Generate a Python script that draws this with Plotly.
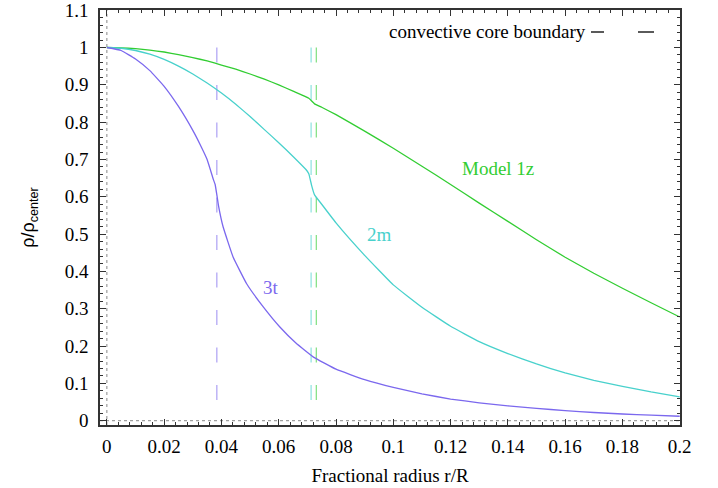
import plotly.graph_objects as go

# ---- data ----
x_1z = [0, 0.005, 0.01, 0.015, 0.02, 0.025, 0.03, 0.035, 0.04, 0.045, 0.05, 0.055, 0.06, 0.065,
        0.0705, 0.0725, 0.075, 0.08, 0.09, 0.1, 0.11, 0.12, 0.13, 0.14, 0.15, 0.16, 0.17, 0.18, 0.19, 0.2]
y_1z = [1.0, 0.999, 0.997, 0.993, 0.988, 0.981, 0.973, 0.964, 0.953, 0.942, 0.929, 0.915, 0.900, 0.883,
        0.864, 0.849, 0.840, 0.820, 0.776, 0.730, 0.682, 0.633, 0.583, 0.534, 0.485, 0.438, 0.395, 0.355, 0.316, 0.278]

x_2m = [0, 0.005, 0.01, 0.015, 0.02, 0.025, 0.03, 0.035, 0.04, 0.045, 0.05, 0.055, 0.06, 0.065,
        0.0695, 0.0705, 0.0715, 0.0725, 0.075, 0.08, 0.09, 0.1, 0.11, 0.12, 0.13, 0.14, 0.15, 0.16, 0.17, 0.18, 0.19, 0.2]
y_2m = [1.0, 0.998, 0.992, 0.982, 0.968, 0.950, 0.929, 0.905, 0.878, 0.848, 0.815, 0.780, 0.745, 0.708,
        0.673, 0.662, 0.630, 0.605, 0.580, 0.530, 0.443, 0.364, 0.304, 0.253, 0.212, 0.180, 0.152, 0.128, 0.108, 0.092, 0.077, 0.064]

x_3t = [0, 0.005, 0.01, 0.015, 0.02, 0.025, 0.03, 0.0325, 0.035, 0.0372, 0.0378, 0.0385, 0.039, 0.0406,
        0.0441, 0.0488, 0.0546, 0.0604, 0.066, 0.072, 0.08, 0.09, 0.1, 0.11, 0.12, 0.13, 0.14, 0.15, 0.16, 0.17, 0.18, 0.19, 0.2]
y_3t = [1.0, 0.992, 0.969, 0.938, 0.896, 0.842, 0.778, 0.741, 0.700, 0.646, 0.633, 0.600, 0.575, 0.519,
        0.438, 0.367, 0.305, 0.251, 0.208, 0.171, 0.138, 0.110, 0.089, 0.072, 0.058, 0.048, 0.040, 0.033, 0.027, 0.022, 0.018, 0.015, 0.012]

core_x = {"3t": 0.0384, "2m": 0.0713, "1z": 0.0731}

x_tickvals = [0, 0.02, 0.04, 0.06, 0.08, 0.1, 0.12, 0.14, 0.16, 0.18, 0.2]
x_ticktext = ["0", "0.02", "0.04", "0.06", "0.08", "0.1", "0.12", "0.14", "0.16", "0.18", "0.2"]
y_tickvals = [0, 0.1, 0.2, 0.3, 0.4, 0.5, 0.6, 0.7, 0.8, 0.9, 1.0, 1.1]
y_ticktext = ["0", "0.1", "0.2", "0.3", "0.4", "0.5", "0.6", "0.7", "0.8", "0.9", "1", "1.1"]

# ---- styles ----
C_1Z = "#32CD32"
C_2M = "#48D1CC"
C_3T = "#7B68EE"
SERIF = "'Liberation Serif', 'Times New Roman', 'DejaVu Serif', serif"
SANS = "'Liberation Sans', Arial, sans-serif"
FS = 19

fig = go.Figure()

# dashed convective core boundaries (drawn from top down)
for key, col in (("3t", C_3T), ("2m", C_2M), ("1z", C_1Z)):
    fig.add_trace(go.Scatter(x=[core_x[key], core_x[key]], y=[1.0, 0.0], mode="lines",
                             line=dict(color=col, width=1, dash="15px,22.5px"),
                             opacity=0.75, showlegend=False, hoverinfo="skip"))

for xs, ys, col in ((x_1z, y_1z, C_1Z), (x_2m, y_2m, C_2M), (x_3t, y_3t, C_3T)):
    fig.add_trace(go.Scatter(x=xs, y=ys, mode="lines",
                             line=dict(color=col, width=1.3, shape="spline", smoothing=0.3),
                             showlegend=False, hoverinfo="skip"))

# zero axes (dotted)
fig.add_shape(type="line", xref="x", yref="paper", x0=0, x1=0, y0=0, y1=1,
              line=dict(color="#888888", width=1, dash="dot"), layer="below")
fig.add_shape(type="line", xref="paper", yref="y", x0=0, x1=1, y0=0, y1=0,
              line=dict(color="#888888", width=1, dash="dot"), layer="below")

# key
KEY_Y = (425 - 32) / 415
fig.add_annotation(xref="paper", yref="paper", x=(588 - 100) / 580, y=KEY_Y,
                   text="convective core boundary", showarrow=False, xanchor="right", yanchor="middle",
                   font=dict(family=SERIF, size=FS, color="black"))
for a, b in ((591, 604), (638, 654)):
    fig.add_shape(type="line", xref="paper", yref="paper", x0=(a - 100) / 580, x1=(b - 100) / 580,
                  y0=KEY_Y, y1=KEY_Y, line=dict(color="black", width=1.3))

# curve labels
for txt, lx, ly, col in (("Model 1z", 0.1365, 0.677, C_1Z), ("2m", 0.0952, 0.499, C_2M), ("3t", 0.0573, 0.356, C_3T)):
    fig.add_annotation(x=lx, y=ly, text=txt, showarrow=False, xanchor="center", yanchor="middle",
                       font=dict(family=SERIF, size=FS, color=col))

axis_common = dict(showline=True, linecolor="#333333", linewidth=1.5, mirror="allticks",
                   ticks="inside", ticklen=6, tickcolor="#333333", tickwidth=1,
                   showgrid=False, zeroline=False, automargin=False, ticklabeloverflow="allow",
                   tickfont=dict(family=SERIF, size=FS, color="black"))

fig.update_xaxes(range=[-0.0024, 0.2001], tickmode="array", tickvals=x_tickvals, ticktext=x_ticktext,
                 minor=dict(ticks="inside", ticklen=3, dtick=0.004, tick0=0, tickcolor="#333333", showgrid=False),
                 title=dict(text="Fractional radius r/R", font=dict(family=SERIF, size=FS, color="black"), standoff=13),
                 ticklabelstandoff=3, **axis_common)
fig.update_yaxes(range=[-0.0115, 1.1005], tickmode="array", tickvals=y_tickvals, ticktext=y_ticktext,
                 minor=dict(ticks="inside", ticklen=3, dtick=0.02, tick0=0, tickcolor="#333333", showgrid=False),
                 title=dict(text="ρ/ρ<sub>center</sub>", font=dict(family=SANS, size=18, color="black"), standoff=25),
                 ticklabelstandoff=6, **axis_common)

fig.update_layout(width=718, height=488, margin=dict(l=100, r=38, t=10, b=63),
                  paper_bgcolor="white", plot_bgcolor="white", showlegend=False)

fig.write_html("out.html")
